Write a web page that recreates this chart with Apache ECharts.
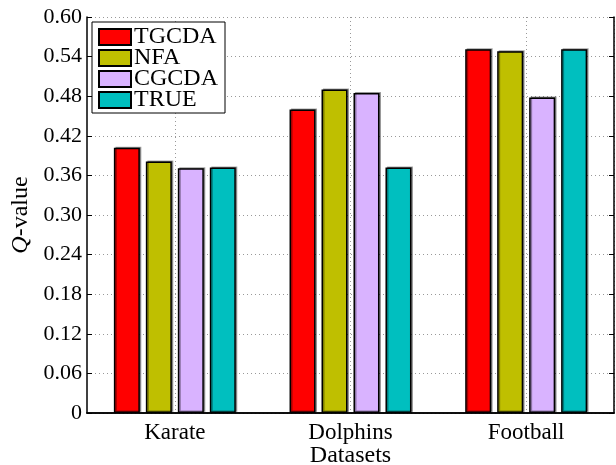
<!DOCTYPE html>
<html>
<head>
<meta charset="utf-8">
<script src="https://cdn.jsdelivr.net/npm/echarts@6/dist/echarts.min.js"></script>
<style>
  html, body { margin: 0; padding: 0; background: #fff; }
  #q-chart { width: 616px; height: 465px; }
</style>
</head>
<body>
<div id="q-chart"></div>
<script>
// categories and values
const datasets = ['Karate', 'Dolphins', 'Football']
const methodNames = ['TGCDA', 'NFA', 'CGCDA', 'TRUE']
const tgcda = [0.402, 0.460, 0.551]
const nfa = [0.381, 0.490, 0.548]
const cgcda = [0.371, 0.485, 0.478]
const trueQ = [0.372, 0.372, 0.551]
const yTicks = [0, 0.06, 0.12, 0.18, 0.24, 0.30, 0.36, 0.42, 0.48, 0.54, 0.60]

const colors = ['#ff0000', '#bfbf00', '#d9b3ff', '#00bfbf']
const font = 'Liberation Serif'

const chart = echarts.init(document.getElementById('q-chart'))

const seriesData = [tgcda, nfa, cgcda, trueQ]
const series = methodNames.map((name, i) => {
  return {
    name: name,
    type: 'bar',
    barWidth: 26,
    barGap: '23%',
    data: seriesData[i],
    itemStyle: {
      color: colors[i],
      borderColor: '#000',
      borderWidth: 1.5,
      shadowColor: 'rgba(0,0,0,0.35)',
      shadowOffsetX: 1.5,
      shadowOffsetY: -1
    }
  }
})

// helper axis: two slots per dataset, so odd boundaries sit on the category centres
const halfSlots = []
datasets.forEach(() => { halfSlots.push('', '') })
const atCentre = index => index % 2 === 1

const option = {
  animation: false,
  backgroundColor: '#fff',
  grid: {
    left: 87,
    right: 2,
    top: 17,
    bottom: 52,
    outerBoundsMode: 'none'
  },
  legend: {
    data: methodNames,
    orient: 'vertical',
    left: 92,
    top: 22,
    padding: [3, 7, 1, 6],
    icon: 'rect',
    itemWidth: 32,
    itemHeight: 16,
    itemGap: -3,
    backgroundColor: '#fff',
    borderColor: '#000',
    borderWidth: 1,
    textStyle: {
      fontFamily: font,
      fontSize: 24,
      color: '#000',
      padding: [0, 0, 0, -2]
    }
  },
  xAxis: [
    {
      type: 'category',
      data: datasets,
      name: 'Datasets',
      nameLocation: 'middle',
      nameGap: 31,
      nameMoveOverlap: false,
      nameTextStyle: { fontFamily: font, fontSize: 24, color: '#000' },
      axisLine: { lineStyle: { color: '#000', width: 1.5 } },
      axisTick: { inside: true, alignWithLabel: true, length: 5, lineStyle: { color: '#000' } },
      axisLabel: { fontFamily: font, fontSize: 23, color: '#000', margin: 8 },
      splitLine: { show: false }
    },
    {
      type: 'category',
      data: halfSlots,
      position: 'top',
      axisLine: { lineStyle: { color: '#000', width: 1.5 } },
      axisTick: { inside: true, interval: atCentre, length: 5, lineStyle: { color: '#000' } },
      axisLabel: { show: false },
      splitLine: {
        show: true,
        interval: atCentre,
        lineStyle: { color: '#999', type: [1, 3], width: 1 }
      }
    }
  ],
  yAxis: [
    {
      type: 'value',
      min: 0,
      max: 0.6,
      interval: 0.06,
      name: '{i|Q}-value',
      nameLocation: 'middle',
      nameGap: 54,
      nameRotate: 90,
      nameMoveOverlap: false,
      nameTextStyle: {
        fontFamily: font,
        fontSize: 24,
        color: '#000',
        rich: {
          i: { fontFamily: font, fontSize: 24, fontStyle: 'italic', color: '#000' }
        }
      },
      axisLine: { show: true, lineStyle: { color: '#000', width: 1.5 } },
      axisTick: { show: true, inside: true, length: 5, lineStyle: { color: '#000' } },
      axisLabel: {
        fontFamily: font,
        fontSize: 22,
        color: '#000',
        margin: 5,
        formatter: function (value) {
          const v = yTicks.find(t => Math.abs(t - value) < 1e-9)
          if (v === undefined) return ''
          return v === 0 ? '0' : v.toFixed(2)
        }
      },
      splitLine: {
        show: true,
        lineStyle: { color: '#999', type: [1, 3], width: 1 }
      }
    },
    {
      type: 'value',
      min: 0,
      max: 0.6,
      interval: 0.06,
      position: 'right',
      axisLine: { show: true, lineStyle: { color: '#000', width: 1.5 } },
      axisTick: { show: true, inside: true, length: 5, lineStyle: { color: '#000' } },
      axisLabel: { show: false },
      splitLine: { show: false }
    }
  ],
  series: series
}

chart.setOption(option)
</script>
</body>
</html>
